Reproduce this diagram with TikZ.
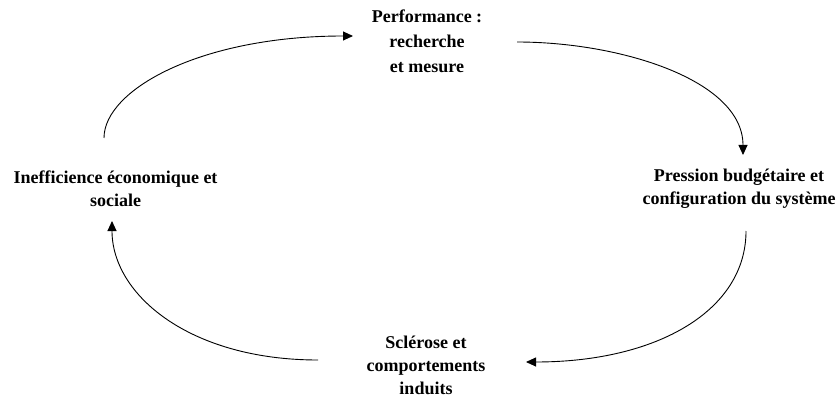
\documentclass[tikz,border=0pt]{standalone}
\usepackage{fontspec}
\setmainfont{Liberation Serif}
\usetikzlibrary{arrows.meta}
\tikzset{
  lbl/.style={align=center, inner sep=0pt, font=\fontsize{18}{23}\selectfont\bfseries},
  lbltop/.style={lbl, font=\fontsize{18}{25}\selectfont\bfseries},
  arr/.style={line width=0.9pt, -{Triangle[length=10pt,width=9pt]}}
}
\begin{document}
\begin{tikzpicture}[x=1pt,y=-1pt]
\useasboundingbox (0,0) rectangle (837,398);
\node[lbltop] (perf) at (427,41) {Performance :\\recherche\\et mesure};
\node[lbl] (press) at (739,188.5) {Pression budgétaire et\\configuration du système};
\node[lbl] (scl) at (426,365.5) {Sclérose et\\comportements\\induits};
\node[lbl] (ineff) at (115.5,188.5) {Inefficience économique et\\sociale};
% connector end points
\coordinate (a1) at (104,138);
\coordinate (b1) at (353,36);
\coordinate (a2) at (517,42);
\coordinate (b2) at (743,155);
\coordinate (a3) at (746,231);
\coordinate (b3) at (526,362);
\coordinate (a4) at (318,360);
\coordinate (b4) at (112,221);
\draw[arr] (a1) .. controls (104,90) and (200,36) .. (b1);
\draw[arr] (a2) .. controls (620,42) and (743,80) .. (b2);
\draw[arr] (a3) .. controls (746,310) and (658,362) .. (b3);
\draw[arr] (a4) .. controls (190,360) and (112,295) .. (b4);
\end{tikzpicture}
\end{document}
